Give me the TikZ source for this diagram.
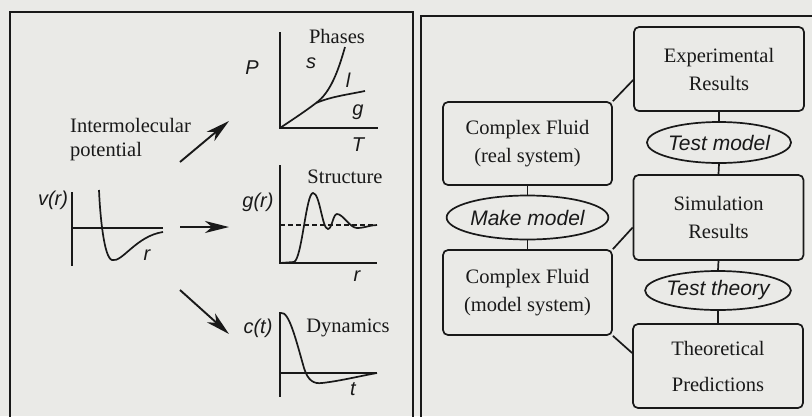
\documentclass[tikz,border=0pt]{standalone}
\usepackage{fontspec}
\setmainfont{Liberation Serif}
\newfontfamily\hvfont{Liberation Sans}
\usetikzlibrary{shapes.geometric,arrows.meta,calc}
\definecolor{paper}{RGB}{234,234,231}
\definecolor{ink}{RGB}{25,25,25}
\tikzset{
  txt/.style={font=\fontsize{20.5}{27}\selectfont, inner sep=0pt, text=ink},
  lab/.style={font=\hvfont\itshape\fontsize{20}{23}\selectfont, inner sep=0pt, text=ink},
  boxnode/.style={draw=ink, line width=1.7pt, rounded corners=5pt, minimum width=170pt,
    minimum height=84pt, align=center, inner sep=0pt, text=ink,
    font=\fontsize{20.5}{28}\selectfont},
  oval/.style={ellipse, draw=ink, line width=1.7pt, minimum width=128pt, minimum height=41pt,
    inner sep=0pt, text=ink, font=\hvfont\itshape\fontsize{21}{24}\selectfont},
  link/.style={draw=ink, line width=1.7pt},
  axis/.style={draw=ink, line width=1.8pt},
  curve/.style={draw=ink, line width=1.7pt},
  bigarrow/.style={draw=ink, line width=1.9pt, -{Stealth[length=24pt,width=12pt,inset=7pt]}}
}
\begin{document}
\begin{tikzpicture}[x=1pt,y=-1pt]
\path[use as bounding box] (0,0) rectangle (812,416);
\clip (0,0) rectangle (812,416);
\fill[paper] (0,0) rectangle (812,416);

% panel frames
\draw[link] (10,430) -- (10,12) -- (413,12) -- (413,430);
\draw[link] (421,430) -- (421,16) -- (830,16);

% ---------- left panel ----------
% phase diagram
\draw[axis] (280,32) -- (280,128) -- (378,128);
\coordinate (trip) at (316,103);
\draw[curve] (280,128) .. controls (295,118) and (307,110) .. (trip);
\draw[curve] (trip) .. controls (330,97) and (345,95) .. (365,91);
\draw[curve] (trip) .. controls (330,93) and (338,72) .. (345,47);
\node[txt] (phases) at (337,36) {Phases};
\node[lab] (labP) at (252,68) {P};
\node[lab] (labs) at (311,63) {s};
\node[lab] (labl) at (348,80) {l};
\node[lab] (labg) at (358,112) {g};
\node[lab] (labT) at (358,145) {T};

% potential
\node[txt, align=left, anchor=west, font=\fontsize{20.5}{24}\selectfont] (pot) at (70,140) {Intermolecular\\potential};
\draw[axis] (72,192) -- (72,266);
\draw[axis] (72,228) -- (163,228);
\draw[curve] (99,190) .. controls (100,215) and (104,258) .. (112,260)
  .. controls (122,263) and (136,236) .. (163,232);
\node[lab] (labv) at (53,200) {v(r)};
\node[lab] (labr1) at (147,255) {r};

% arrows
\coordinate (a1s) at (180,162); \coordinate (a1e) at (229,121);
\coordinate (a2s) at (180,227); \coordinate (a2e) at (229,227);
\coordinate (a3s) at (180,290); \coordinate (a3e) at (229,334);
\draw[bigarrow] (a1s) -- (a1e);
\draw[bigarrow] (a2s) -- (a2e);
\draw[bigarrow] (a3s) -- (a3e);

% structure
\draw[axis] (280,165) -- (280,263) -- (377,263);
\draw[curve, dashed, dash pattern=on 5pt off 3pt, line width=1.3pt] (280,225) -- (377,225);
\draw[curve] (280,263) -- (294,262) .. controls (302,259) and (306,193) .. (313,193)
  .. controls (320,193) and (322,229) .. (328,229)
  .. controls (332,229) and (333,214) .. (337,214)
  .. controls (343,214) and (350,228) .. (357,228)
  .. controls (365,228) and (370,225) .. (377,225);
\node[txt] (struct) at (345,177) {Structure};
\node[lab] (labgr) at (258,202) {g(r)};
\node[lab] (labr2) at (357,276) {r};

% dynamics
\draw[axis] (280,312) -- (280,397);
\draw[axis] (280,373) -- (377,373);
\draw[curve] (281,313) .. controls (289,311) and (296,340) .. (304,368)
  .. controls (308,381) and (314,384) .. (322,383)
  .. controls (340,381) and (360,376) .. (377,373);
\node[txt] (dyn) at (348,328) {Dynamics};
\node[lab] (labc) at (258,328) {c(t)};
\node[lab] (labt) at (353,389) {t};

% ---------- right panel ----------
\node[boxnode] (exp) at (719,69) {Experimental\\Results};
\node[boxnode, minimum width=169pt, minimum height=83pt] (real) at (527.5,143.5) {Complex Fluid\\(real system)};
\node[boxnode, minimum height=85pt] (sim) at (718.5,217.5) {Simulation\\Results};
\node[boxnode, minimum width=169pt, minimum height=85pt] (model) at (527.5,292.5) {Complex Fluid\\(model system)};
\node[boxnode] (theo) at (718,366) {Theoretical\\[8pt]Predictions};

\node[oval] (testmodel) at (719,142.5) {Test model};
\node[oval, minimum height=44pt] (makemodel) at (527.5,217.5) {Make model};
\node[oval, minimum width=130pt, minimum height=39pt] (testtheory) at (718,290.5) {Test theory};

\draw[link] (exp.south) -- (testmodel.north);
\draw[link] (testmodel.south) -- (sim.north);
\draw[link] (sim.south) -- (testtheory.north);
\draw[link] (testtheory.south) -- (theo.north);
\draw[link] (real.south) -- (makemodel.north);
\draw[link] (makemodel.south) -- (model.north);
\draw[link] (real.north east) -- ([yshift=-11pt]exp.west);
\draw[link] (model.north east) -- ([yshift=-10pt]sim.west);
\draw[link] (model.south east) -- ([yshift=13pt]theo.west);
\end{tikzpicture}
\end{document}
